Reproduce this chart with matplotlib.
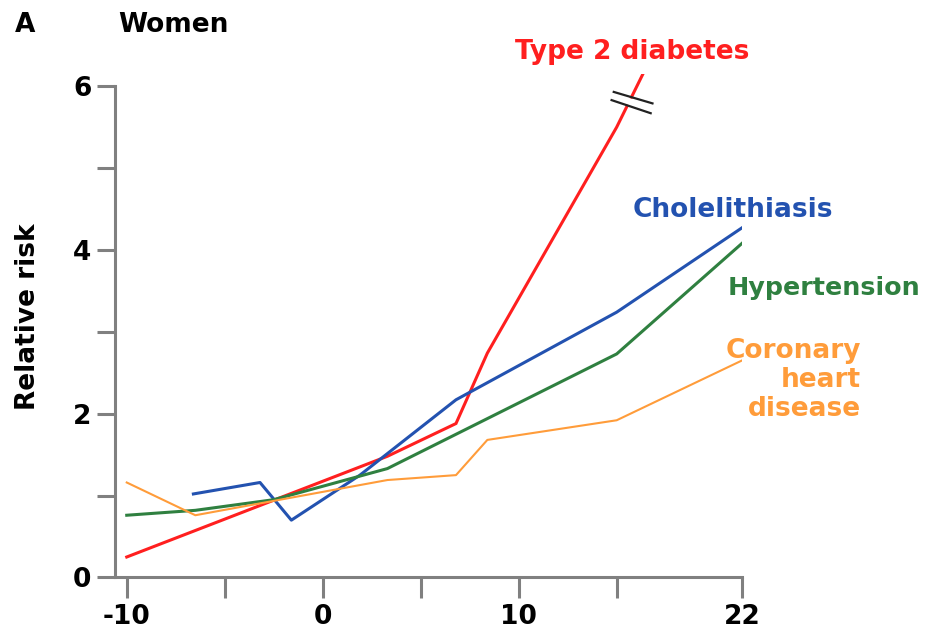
import numpy as np
import matplotlib
matplotlib.use("Agg")
import matplotlib.pyplot as plt

# weight change (kg) vs relative risk, women
diab_x = [-10, 3.3, 6.8, 8.4, 15, 22]
diab_y = [0.25, 1.48, 1.88, 2.74, 5.5, 8.6]

chol_x = [-6.6, -3.2, -1.6, 1.9, 6.8, 15, 22]
chol_y = [1.02, 1.16, 0.70, 1.25, 2.17, 3.24, 4.27]

hyp_x = [-10, -6.5, -2.5, 3.3, 15, 22]
hyp_y = [0.76, 0.82, 0.95, 1.33, 2.73, 4.08]

chd_x = [-10, -6.5, 3.3, 6.8, 8.4, 15, 22]
chd_y = [1.16, 0.76, 1.19, 1.25, 1.68, 1.92, 2.65]

xticks = [-10, -5, 0, 5, 10, 15, 22]
xlabels = ['-10', '', '0', '', '10', '', '22']
yticks = [0, 1, 2, 3, 4, 5, 6]
ylabels = ['0', '', '2', '', '4', '', '6']

RED = '#ff1f1f'
BLUE = '#2352b0'
GREEN = '#2f8040'
ORANGE = '#ff9c3a'
AXIS = '#808080'

plt.rcParams['font.family'] = 'DejaVu Sans'
plt.rcParams['font.weight'] = 'bold'
FS = 19

# the stretch past 15 kg is drawn a little tighter
K = 0.913


def fwd(x):
    x = np.asarray(x, dtype=float)
    return np.where(x <= 15, x, 15 + (x - 15) * K)


def inv(x):
    x = np.asarray(x, dtype=float)
    return np.where(x <= 15, x, 15 + (x - 15) / K)


fig = plt.figure(figsize=(9.28, 6.35), dpi=100)
ax = fig.add_axes([0.1239, 0.0906, 0.6756, 0.793])
ax.set_xscale('function', functions=(fwd, inv))

ax.plot(diab_x, diab_y, color=RED, lw=2.2, solid_joinstyle='miter')
ax.plot(chol_x, chol_y, color=BLUE, lw=2.2)
ax.plot(hyp_x, hyp_y, color=GREEN, lw=2.2)
ax.plot(chd_x, chd_y, color=ORANGE, lw=1.5)

ax.set_xlim(-10.6, 22)
ax.set_ylim(0, 6.15)

for s in ['top', 'right']:
    ax.spines[s].set_visible(False)
for s in ['left', 'bottom']:
    ax.spines[s].set_color(AXIS)
    ax.spines[s].set_linewidth(2.2)
ax.spines['left'].set_bounds(0, 6)

ax.set_xticks(xticks)
ax.set_xticklabels(xlabels)
ax.set_yticks(yticks)
ax.set_yticklabels(ylabels)
ax.tick_params(axis='both', length=13, width=2.2, color=AXIS,
               labelsize=FS, pad=4)
ax.tick_params(axis='x', length=15)
for lab in ax.get_xticklabels() + ax.get_yticklabels():
    lab.set_fontweight('bold')

ax.set_ylabel('Relative risk', fontsize=FS, fontweight='bold')
ax.yaxis.set_label_coords(-0.118, 0.518)

# break mark on the diabetes line
ax.plot([14.8, 16.95], [5.88, 5.72], color='white', lw=5, clip_on=False,
        solid_capstyle='butt', zorder=4)
ax.plot([14.85, 17.0], [5.93, 5.79], color='#222222', lw=1.6,
        clip_on=False, zorder=5)
ax.plot([14.74, 16.9], [5.83, 5.67], color='#222222', lw=1.6,
        clip_on=False, zorder=5)

ax.text(15.84, 6.42, 'Type 2 diabetes', color=RED, fontsize=FS,
        fontweight='bold', ha='center', va='center')
ax.text(15.9, 4.49, 'Cholelithiasis', color=BLUE, fontsize=FS,
        fontweight='bold', ha='left', va='center')
ax.text(21.2, 3.53, 'Hypertension', color=GREEN, fontsize=18.3,
        fontweight='bold', ha='left', va='center')
ax.text(28.66, 2.41, 'Coronary\nheart\ndisease', color=ORANGE, fontsize=FS,
        fontweight='bold', ha='right', va='center', multialignment='right',
        linespacing=1.15)

fig.text(15 / 928, 1 - 25 / 635, 'A', fontsize=FS, fontweight='bold',
         ha='left', va='center')
fig.text(118 / 928, 1 - 25 / 635, 'Women', fontsize=FS, fontweight='bold',
         ha='left', va='center')

fig.savefig('out.png', dpi=100)
